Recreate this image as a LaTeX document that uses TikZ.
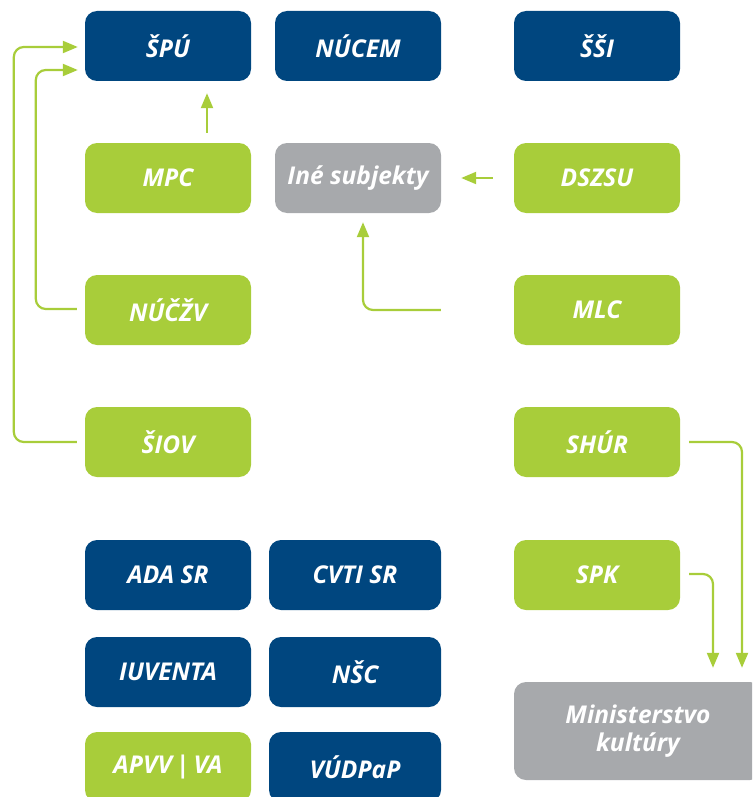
\documentclass[tikz,border=0pt]{standalone}
\usepackage{fontspec}
\setmainfont{Open Sans}
\usetikzlibrary{arrows.meta}
\definecolor{dblue}{RGB}{0,70,127}
\definecolor{lgreen}{RGB}{168,205,58}
\definecolor{lgray}{RGB}{167,169,172}
\begin{document}
\begin{tikzpicture}[x=1pt,y=-1pt,
  box/.style={rounded corners=12pt, minimum width=166pt, minimum height=70pt, inner sep=0pt,
    text=white, font=\fontsize{24.5}{28.5}\selectfont\bfseries\itshape, align=center},
  bluebox/.style={box, fill=dblue},
  greenbox/.style={box, fill=lgreen},
  graybox/.style={box, fill=lgray},
  arr/.style={draw=lgreen, line width=2.2pt, rounded corners=10pt, -{Triangle[length=15pt,width=12pt]}}]
\useasboundingbox (0,0) rectangle (752,797);
\clip (0,0) rectangle (752,797);
% row 1
\node[bluebox] (spu) at (168,46) {ŠPÚ};
\node[bluebox] (nucem) at (358,46) {NÚCEM};
\node[bluebox] (ssi) at (597,46) {ŠŠI};
% row 2
\node[greenbox] (mpc) at (168,178) {MPC};
\node[graybox] (ine) at (358,178) {Iné subjekty};
\node[greenbox] (dszsu) at (597,178) {DSZSU};
% row 3
\node[greenbox] (nuczv) at (168,310) {NÚČŽV};
\node[greenbox] (mlc) at (597,310) {MLC};
% row 4
\node[greenbox] (siov) at (168,442) {ŠIOV};
\node[greenbox] (shur) at (597,442) {SHÚR};
% lower block
\node[bluebox] (ada) at (168,575) {ADA SR};
\node[bluebox, minimum width=172pt] (cvti) at (355,575) {CVTI SR};
\node[greenbox] (spk) at (597,575) {SPK};
\node[bluebox] (iuventa) at (168,672) {IUVENTA};
\node[bluebox, minimum width=172pt] (nsc) at (355,672) {NŠC};
\node[greenbox] (apvv) at (168,767) {APVV\,|\,VA};
\node[bluebox, minimum width=172pt] (vudpap) at (355,767) {VÚDPaP};
\node[graybox, minimum width=248pt, minimum height=98pt] (min) at (638,731) {Ministerstvo\\kultúry};
% connectors
\coordinate (t1) at ([xshift=-7pt,yshift=-1pt]spu.west);
\coordinate (t2) at ([xshift=-7pt,yshift=-24pt]spu.west);
\draw[arr] ([xshift=-8pt]siov.west) -| ([xshift=-64pt]t1) -- (t1);
\draw[arr] ([xshift=-8pt,yshift=1pt]nuczv.west) -| ([xshift=-42pt]t2) -- (t2);
\draw[arr] ([xshift=39pt,yshift=10pt]mpc.north) -- ([xshift=39pt,yshift=-12pt]spu.south);
\draw[arr] ([xshift=-21pt]dszsu.west) -- ([xshift=20pt]ine.east);
\draw[arr] ([xshift=-73pt]mlc.west) -| ([xshift=5pt,yshift=-9pt]ine.south);
\draw[arr] ([xshift=9pt]shur.east) -| ([xshift=104pt,yshift=14pt]min.north);
\draw[arr] ([xshift=9pt,yshift=1pt]spk.east) -| ([xshift=75pt,yshift=14pt]min.north);
\end{tikzpicture}
\end{document}
